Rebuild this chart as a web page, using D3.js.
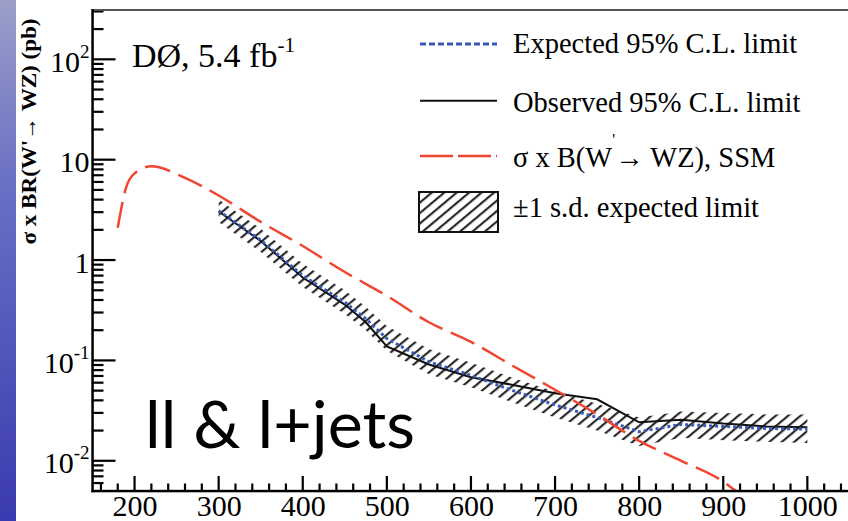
<!DOCTYPE html>
<html><head><meta charset="utf-8">
<script src="https://cdn.jsdelivr.net/npm/d3@7"></script>
<style>
html,body{margin:0;padding:0;background:#fff;}
svg{display:block;}
</style></head>
<body>
<svg id="c" width="848" height="521"></svg>
<script>
// ---- data ----
const ssmMass = [180, 190, 200, 220, 260, 300, 350, 400, 450, 500, 550, 600, 650, 700, 750, 800, 850, 900, 915];
const ssmXsec = [2.1, 5.3, 7.3, 8.6, 6.6, 4.4, 2.4, 1.38, 0.76, 0.44, 0.24, 0.153, 0.088, 0.051, 0.029, 0.0158, 0.0100, 0.0062, 0.0050];

const limMass = [300, 350, 400, 450, 475, 500, 550, 600, 650, 700, 750, 800, 850, 900, 950, 1000];
const observed = [3.05, 1.55, 0.67, 0.36, 0.24, 0.138, 0.091, 0.068, 0.057, 0.047, 0.041, 0.0242, 0.0257, 0.0235, 0.022, 0.0216];
const expected = [3.1, 1.58, 0.70, 0.38, 0.26, 0.165, 0.097, 0.071, 0.050, 0.036, 0.027, 0.0195, 0.023, 0.022, 0.021, 0.0207];
const bandUp   = [4.0, 2.05, 0.92, 0.50, 0.34, 0.22, 0.13, 0.095, 0.067, 0.049, 0.037, 0.027, 0.031, 0.030, 0.029, 0.029];
const bandLo   = [2.4, 1.2, 0.54, 0.29, 0.20, 0.125, 0.073, 0.054, 0.038, 0.027, 0.020, 0.014, 0.017, 0.016, 0.0155, 0.015];

const xTickValues = [200, 300, 400, 500, 600, 700, 800, 900, 1000];
const xTickLabels = ["200", "300", "400", "500", "600", "700", "800", "900", "1000"];
const yTickValues = [0.01, 0.1, 1, 10, 100];
const yTickBase = ["10", "10", "1", "10", "10"];
const yTickExp  = ["-2", "-1", "", "", "2"];

const legendLabels = ["Expected 95% C.L. limit", "Observed 95% C.L. limit", "σ x B(W", "±1 s.d. expected limit"];
const yTitle = "σ x BR(W'→ WZ) (pb)";

// ---- setup ----
const svg = d3.select("#c");
const serif = "'Liberation Serif','Times New Roman',serif";
const defs = svg.append("defs");

const bg = defs.append("linearGradient").attr("id", "bgStrip").attr("x1", 0).attr("y1", 0).attr("x2", 0).attr("y2", 1);
bg.append("stop").attr("offset", "0").attr("stop-color", "#9a9ec8");
bg.append("stop").attr("offset", "0.35").attr("stop-color", "#6a70c4");
bg.append("stop").attr("offset", "1").attr("stop-color", "#3a3ab0");

const hatch = defs.append("pattern").attr("id", "hatch").attr("patternUnits", "userSpaceOnUse")
  .attr("width", 8).attr("height", 8).attr("patternTransform", "rotate(50)");
hatch.append("rect").attr("x", 0).attr("y", 0).attr("width", 2.2).attr("height", 8).attr("fill", "#2a2a2a");

svg.append("rect").attr("x", 0).attr("y", 0).attr("width", 16).attr("height", 521).attr("fill", "url(#bgStrip)");

const x = d3.scaleLinear().domain([150, 1050]).range([92.5, 849.4]);
const y = d3.scaleLog().domain([0.005, 310]).range([491, 10]);

// ---- band ----
const bandData = limMass.map((m, i) => ({m, lo: bandLo[i], up: bandUp[i]}));
svg.append("path").datum(bandData)
  .attr("d", d3.area().x(d => x(d.m)).y0(d => y(d.lo)).y1(d => y(d.up)))
  .attr("fill", "url(#hatch)");

// ---- curves ----
const lineGen = d3.line().x(d => x(d[0])).y(d => y(d[1]));
svg.append("path").datum(limMass.map((m, i) => [m, observed[i]]))
  .attr("d", lineGen).attr("fill", "none").attr("stroke", "#111").attr("stroke-width", 2);
svg.append("path").datum(limMass.map((m, i) => [m, expected[i]]))
  .attr("d", lineGen).attr("fill", "none").attr("stroke", "#3a58b8").attr("stroke-width", 3)
  .attr("stroke-dasharray", "3,3");
svg.append("path").datum(ssmMass.map((m, i) => [m, ssmXsec[i]]))
  .attr("d", d3.line().curve(d3.curveMonotoneX).x(d => x(d[0])).y(d => y(d[1])))
  .attr("fill", "none").attr("stroke", "#f04530").attr("stroke-width", 2.5)
  .attr("stroke-dasharray", "26,9");

// ---- tick marks as filled rects ----
const xMinor = d3.range(160, 1050, 20).filter(v => v % 100 !== 0);
const yMinor = [];
[0.001, 0.01, 0.1, 1, 10, 100].forEach(d => { for (let k = 2; k <= 9; k++) { const v = d * k; if (v > 0.0051 && v < 310) yMinor.push(v); } });
const xTicksAll = xMinor.map(v => ({v, len: 7.5})).concat(xTickValues.map(v => ({v, len: 15})));
const yTicksAll = yMinor.map(v => ({v, len: 11})).concat(yTickValues.map(v => ({v, len: 23})));

const tickLayer = svg.append("g");
tickLayer.selectAll("rect.xt").data(xTicksAll).join("rect").attr("class", "xt")
  .attr("x", d => x(d.v) - 1.1).attr("y", d => 491 - d.len).attr("width", 2.2).attr("height", d => d.len)
  .attr("fill", "#000");
tickLayer.selectAll("rect.yt").data(yTicksAll).join("rect").attr("class", "yt")
  .attr("x", 92.5).attr("y", d => y(d.v) - 1.1).attr("width", d => d.len).attr("height", 2.2)
  .attr("fill", "#000");

// ---- axis labels ----
const gx = svg.append("g").attr("transform", "translate(0,491)")
  .call(d3.axisBottom(x).tickValues(xTickValues).tickSize(0).tickPadding(4)
    .tickFormat((d, i) => xTickLabels[i]));
gx.select("path.domain").remove();
gx.selectAll(".tick line").remove();
gx.selectAll("text").attr("font-family", serif).attr("font-size", 30).attr("fill", "#000");

const gy = svg.append("g").attr("transform", "translate(92.5,0)")
  .call(d3.axisLeft(y).tickValues(yTickValues).tickSize(0).tickPadding(3)
    .tickFormat((d, i) => yTickBase[i]));
gy.select("path.domain").remove();
gy.selectAll(".tick line").remove();
gy.selectAll("text").attr("font-family", serif).attr("font-size", 30).attr("fill", "#000").attr("dy", "0.4em")
  .each(function (d) {
    const i = yTickValues.indexOf(d);
    if (i >= 0 && yTickExp[i]) {
      d3.select(this).append("tspan").attr("font-size", 19).attr("dy", "-0.75em").text(yTickExp[i]);
    }
  });

// ---- frame ----
svg.append("rect").attr("x", 92.5).attr("y", 9).attr("width", 756).attr("height", 2).attr("fill", "#555");
svg.append("rect").attr("x", 91.3).attr("y", 9).attr("width", 2.5).attr("height", 483.3).attr("fill", "#000");
svg.append("rect").attr("x", 91.3).attr("y", 489.8).attr("width", 757).attr("height", 2.5).attr("fill", "#000");

// ---- y title ----
svg.append("text").attr("transform", "translate(36,131.5) rotate(-90)")
  .attr("text-anchor", "middle").attr("font-family", serif).attr("font-weight", "bold")
  .attr("font-size", 22).attr("fill", "#000")
  .attr("textLength", 226).attr("lengthAdjust", "spacingAndGlyphs").text(yTitle);

// ---- annotations ----
const dz = svg.append("text").attr("x", 132).attr("y", 66.5).attr("font-family", serif).attr("font-size", 34).attr("fill", "#000");
dz.append("tspan").text("DØ, 5.4 fb");
dz.append("tspan").attr("font-size", 21).attr("dy", -15).text("-1");

svg.append("text").attr("x", 145).attr("y", 448).attr("font-family", "Lato, 'Open Sans', sans-serif")
  .attr("font-size", 66).attr("fill", "#000")
  .attr("textLength", 270).attr("lengthAdjust", "spacingAndGlyphs").text("ll & l+jets");

// ---- legend ----
const lx1 = 420, lx2 = 497, tx = 513;
svg.append("line").attr("x1", lx1).attr("x2", lx2).attr("y1", 44).attr("y2", 44)
  .attr("stroke", "#3a58b8").attr("stroke-width", 3).attr("stroke-dasharray", "6,3");
svg.append("line").attr("x1", lx1).attr("x2", lx2).attr("y1", 100.7).attr("y2", 100.7)
  .attr("stroke", "#111").attr("stroke-width", 2);
svg.append("line").attr("x1", lx1).attr("x2", lx2).attr("y1", 156).attr("y2", 156)
  .attr("stroke", "#f04530").attr("stroke-width", 2.5).attr("stroke-dasharray", "33,5");
svg.append("rect").attr("x", 419).attr("y", 192).attr("width", 79).attr("height", 40)
  .attr("fill", "url(#hatch)").attr("stroke", "#111").attr("stroke-width", 2);

const lt = (yy) => svg.append("text").attr("x", tx).attr("y", yy).attr("font-family", serif)
  .attr("font-size", 28.5).attr("fill", "#000");
lt(53).text(legendLabels[0]);
lt(111.5).text(legendLabels[1]);
const ssmT = lt(166.5);
ssmT.append("tspan").text(legendLabels[2]);
ssmT.append("tspan").attr("font-size", 16).attr("dy", -22).text("'");
ssmT.append("tspan").attr("dy", 22).text("→ WZ), SSM");
lt(217).text(legendLabels[3]);
</script>
</body></html>
